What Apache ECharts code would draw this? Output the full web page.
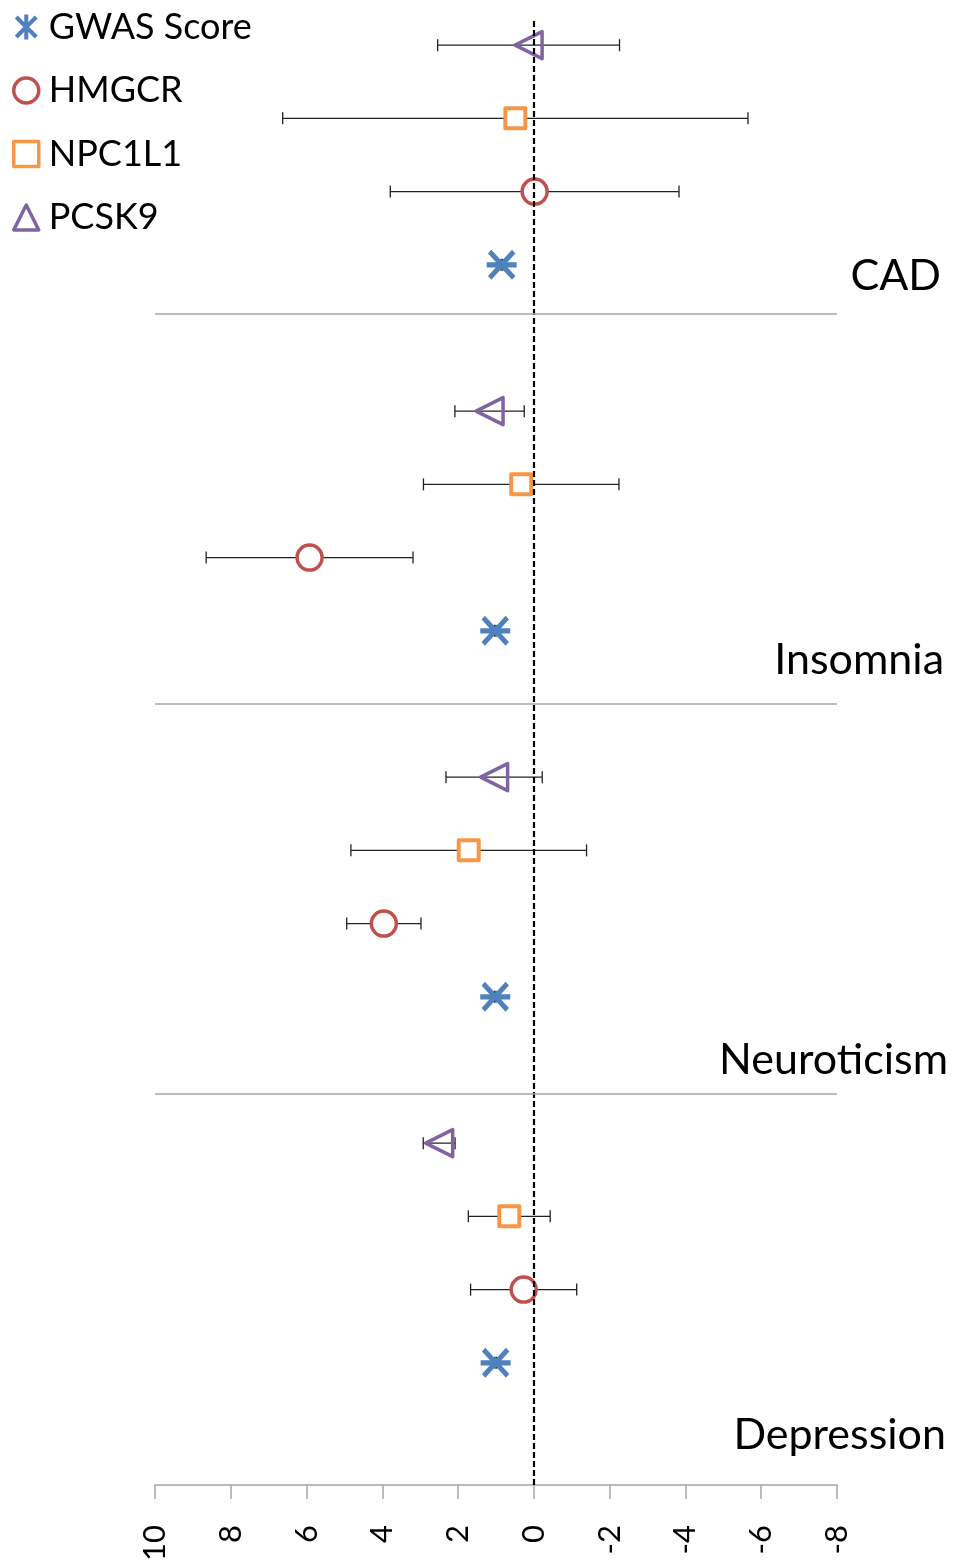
<!DOCTYPE html>
<html>
<head>
<meta charset="utf-8">
<script src="https://cdn.jsdelivr.net/npm/echarts@6/dist/echarts.min.js"></script>
<style>
  html, body { margin: 0; padding: 0; background: #fff; }
  #chart { width: 953px; height: 1565px; }
</style>
</head>
<body>
<div id="chart"></div>
<script>
// Outcomes, top to bottom
const categories = ['CAD', 'Insomnia', 'Neuroticism', 'Depression'];
// Row base for each outcome block (rows count upward from the bottom)
const groupBase = [15, 10, 5, 0];

// Effect estimates and half-widths of the intervals, one value per outcome
const gwasScore = [0.85, 1.02, 1.02, 1.01];
const gwasErr = [0.02, 0.02, 0.02, 0.02];
const hmgcr = [-0.02, 5.92, 3.96, 0.27];
const hmgcrErr = [3.81, 2.73, 0.98, 1.40];
const npc1l1 = [0.49, 0.335, 1.72, 0.65];
const npc1l1Err = [6.14, 2.58, 3.11, 1.08];
const pcsk9 = [0.14, 1.17, 1.05, 2.50];
const pcsk9Err = [2.40, 0.915, 1.27, 0.42];

// Horizontal dividers between outcome blocks
const separatorRows = [15.33, 10.0, 4.67];
// x-axis range and tick step
const xMin = -8, xMax = 10, xStep = 2;

const FONT = 'Lato';
const BLUE = '#4f81bd', RED = '#c0504d', ORANGE = '#f79646', PURPLE = '#8064a2';

// asterisk: two diagonals plus one horizontal bar (plot) / vertical bar (legend)
const diag = 'M15.66,4.34 L95.66,84.34 L84.34,95.66 L4.34,15.66 Z ' +
             'M95.66,15.66 L15.66,95.66 L4.34,84.34 L84.34,4.34 Z ';
const starH = 'path://' + diag + 'M0,42 L100,42 L100,58 L0,58 Z';
const starV = 'path://' + diag + 'M42,0 L58,0 L58,100 L42,100 Z';

function points(vals, rowOffset) {
  return vals.map((v, i) => [v, groupBase[i] + rowOffset]);
}
function bars(vals, errs, rowOffset) {
  return vals.map((v, i) => [groupBase[i] + rowOffset, v - errs[i], v + errs[i]]);
}

const allBars = []
  .concat(bars(gwasScore, gwasErr, 1))
  .concat(bars(hmgcr, hmgcrErr, 2))
  .concat(bars(npc1l1, npc1l1Err, 3))
  .concat(bars(pcsk9, pcsk9Err, 4));

const chart = echarts.init(document.getElementById('chart'), null, { renderer: 'canvas' });

const labelFont = '43px ' + FONT;

const option = {
  animation: false,
  backgroundColor: '#fff',
  textStyle: { fontFamily: FONT },
  grid: { left: 155, right: 116, top: 21, bottom: 80, containLabel: false },
  xAxis: {
    type: 'value',
    inverse: true,
    min: xMin, max: xMax, interval: xStep,
    splitLine: { show: false },
    axisLine: { show: true, onZero: false, lineStyle: { color: '#a6a6a6', width: 1.5 } },
    axisTick: { show: true, length: 14, lineStyle: { color: '#a6a6a6', width: 1.5 } },
    axisLabel: { rotate: 90, margin: 40, fontSize: 31, color: '#000', fontFamily: FONT }
  },
  yAxis: { type: 'value', min: -0.67, max: 19.33, show: false },
  legend: {
    orient: 'vertical',
    left: 7, top: 2,
    itemWidth: 25, itemHeight: 25,
    itemGap: 23.5,
    symbolRotate: 0,
    textStyle: { fontSize: 36, lineHeight: 40, color: '#000', fontFamily: FONT, padding: [0, 0, 0, 5] },
    itemStyle: { borderWidth: 3.5 },
    data: [
      { name: 'GWAS Score', icon: starV, itemStyle: { borderWidth: 0 } },
      { name: 'HMGCR' },
      { name: 'NPC1L1' },
      { name: 'PCSK9' }
    ]
  },
  graphic: [
    { type: 'text', x: 941, y: 276, style: { text: categories[0], align: 'right', verticalAlign: 'middle', font: labelFont, fill: '#000' } },
    { type: 'text', x: 944, y: 660, style: { text: categories[1], align: 'right', verticalAlign: 'middle', font: labelFont, fill: '#000' } },
    { type: 'text', x: 948, y: 1060, style: { text: categories[2], align: 'right', verticalAlign: 'middle', font: labelFont, fill: '#000' } },
    { type: 'text', x: 946, y: 1435, style: { text: categories[3], align: 'right', verticalAlign: 'middle', font: labelFont, fill: '#000' } }
  ],
  series: [
    {
      // interval whiskers with end caps
      type: 'custom',
      name: 'intervals',
      data: allBars,
      encode: { x: [1, 2], y: 0 },
      z: 1,
      silent: true,
      renderItem: function (params, api) {
        const y = api.value(0);
        const a = api.coord([api.value(1), y]);
        const b = api.coord([api.value(2), y]);
        const cap = 6;
        const style = { stroke: '#222', lineWidth: 1.3 };
        return {
          type: 'group',
          children: [
            { type: 'line', shape: { x1: a[0], y1: a[1], x2: b[0], y2: b[1] }, style: style },
            { type: 'line', shape: { x1: a[0], y1: a[1] - cap, x2: a[0], y2: a[1] + cap }, style: style },
            { type: 'line', shape: { x1: b[0], y1: b[1] - cap, x2: b[0], y2: b[1] + cap }, style: style }
          ]
        };
      },
      markLine: {
        silent: true,
        symbol: 'none',
        label: { show: false },
        data: [
          { xAxis: 0, lineStyle: { color: '#000', width: 2.2, type: [6, 3] } }
        ].concat(separatorRows.map(r => ({ yAxis: r, lineStyle: { color: '#a6a6a6', width: 1.5, type: 'solid' } })))
      }
    },
    {
      type: 'scatter', name: 'GWAS Score', z: 3,
      data: points(gwasScore, 1),
      symbol: starH, symbolSize: 30,
      itemStyle: { color: BLUE, borderColor: BLUE, borderWidth: 0, opacity: 1 }
    },
    {
      type: 'scatter', name: 'HMGCR', z: 3,
      data: points(hmgcr, 2),
      symbol: 'circle', symbolSize: 25,
      itemStyle: { color: '#fff', borderColor: RED, borderWidth: 3.5, opacity: 1 }
    },
    {
      type: 'scatter', name: 'NPC1L1', z: 3,
      data: points(npc1l1, 3),
      symbol: 'rect', symbolSize: 20,
      itemStyle: { color: '#fff', borderColor: ORANGE, borderWidth: 4, borderJoin: 'round', opacity: 1 }
    },
    {
      type: 'scatter', name: 'PCSK9', z: 3,
      data: points(pcsk9, 4),
      symbol: 'triangle', symbolSize: 27, symbolRotate: 90,
      itemStyle: { color: 'rgba(255,255,255,0)', borderColor: PURPLE, borderWidth: 3.5, borderJoin: 'round', opacity: 1 }
    }
  ]
};

chart.setOption(option);
</script>
</body>
</html>
